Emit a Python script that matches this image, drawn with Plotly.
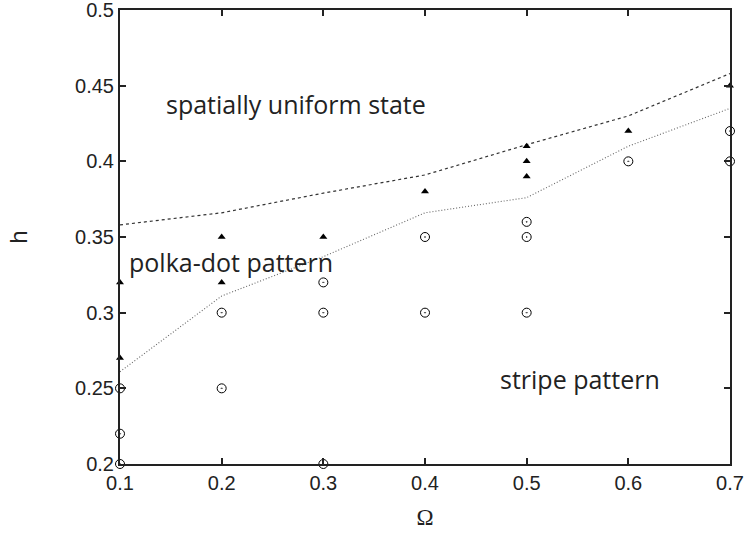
import plotly.graph_objects as go

# data
tri_x = [0.1, 0.1, 0.2, 0.2, 0.3, 0.4, 0.5, 0.5, 0.5, 0.6, 0.7]
tri_y = [0.32, 0.27, 0.35, 0.32, 0.35, 0.38, 0.41, 0.40, 0.39, 0.42, 0.45]
circ_x = [0.1, 0.1, 0.1, 0.2, 0.2, 0.3, 0.3, 0.3, 0.4, 0.4, 0.5, 0.5, 0.5, 0.6, 0.7, 0.7]
circ_y = [0.25, 0.22, 0.20, 0.30, 0.25, 0.32, 0.30, 0.20, 0.35, 0.30, 0.36, 0.35, 0.30, 0.40, 0.42, 0.40]
line_x = [0.1, 0.2, 0.3, 0.4, 0.5, 0.6, 0.7]
upper_y = [0.358, 0.366, 0.379, 0.391, 0.411, 0.430, 0.458]
lower_y = [0.261, 0.311, 0.337, 0.366, 0.376, 0.410, 0.435]
x_ticks = [0.1, 0.2, 0.3, 0.4, 0.5, 0.6, 0.7]
y_ticks = [0.2, 0.25, 0.3, 0.35, 0.4, 0.45, 0.5]

fig = go.Figure()
fig.add_trace(go.Scatter(x=line_x, y=upper_y, mode="lines",
                         line=dict(color="#333333", width=1.2, dash="3px,3px")))
fig.add_trace(go.Scatter(x=line_x, y=lower_y, mode="lines",
                         line=dict(color="#666666", width=1.1, dash="1px,2px")))
fig.add_trace(go.Scatter(x=tri_x, y=tri_y, mode="markers",
                         marker=dict(symbol="triangle-up", size=7, color="black"),
                         cliponaxis=False))
fig.add_trace(go.Scatter(x=circ_x, y=circ_y, mode="markers",
                         marker=dict(symbol="circle-open-dot", size=9, color="black",
                                     line=dict(width=1, color="black")),
                         cliponaxis=False))

afont = dict(family="Open Sans, Noto Sans, sans-serif", size=25, color="#222222")
fig.add_annotation(x=0.143, y=0.438, text="spatially uniform state", showarrow=False,
                   xanchor="left", font=afont)
fig.add_annotation(x=0.107, y=0.3335, text="polka-dot pattern", showarrow=False,
                   xanchor="left", font=afont)
fig.add_annotation(x=0.472, y=0.256, text="stripe pattern", showarrow=False,
                   xanchor="left", font=afont)

axis_common = dict(showgrid=False, zeroline=False, showline=True, linecolor="#222222",
                   linewidth=2, mirror="ticks", ticks="inside", ticklen=6,
                   tickcolor="#222222", tickwidth=1.5, ticklabeloverflow="allow",
                   tickfont=dict(family="Liberation Sans, Arial, sans-serif", size=20, color="#222222"))
fig.update_xaxes(range=[0.1, 0.7], tickvals=x_ticks, ticktext=[str(v) for v in x_ticks],
                 title=dict(text="Ω", font=dict(family="Liberation Serif, serif", size=23, color="#222222"),
                            standoff=16),
                 **axis_common)
fig.update_yaxes(range=[0.2, 0.5], tickvals=y_ticks, ticktext=[f"{v:g}" for v in y_ticks],
                 title=dict(text="h", font=dict(family="Liberation Sans, Arial, sans-serif", size=24, color="#222222"),
                            standoff=41),
                 **axis_common)
fig.update_layout(width=752, height=534, showlegend=False,
                  plot_bgcolor="white", paper_bgcolor="white",
                  margin=dict(l=120, r=22, t=10, b=70, autoexpand=False))
fig.write_html("out.html", config={"displayModeBar": False},
               post_script="document.body.style.margin='0px';")
